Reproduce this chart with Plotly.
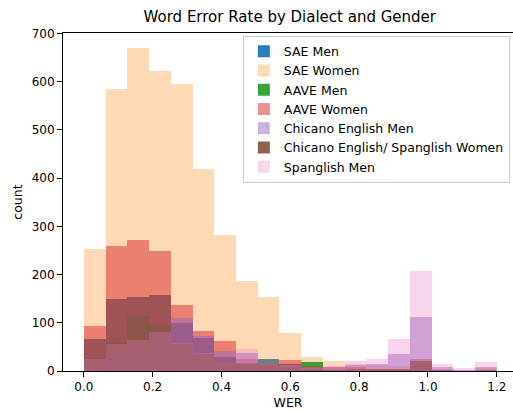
import numpy as np
import plotly.graph_objects as go

# Shared histogram bins (19 bins from 0 to 1.2)
bin_start, bin_end, n_bins = 0.0, 1.2, 19

series_names = [
    "SAE Men",
    "SAE Women",
    "AAVE Men",
    "AAVE Women",
    "Chicano English Men",
    "Chicano English/ Spanglish Women",
    "Spanglish Men",
]

sae_men = [66, 150, 154, 157, 99, 68, 29, 17, 24, 14, 3, 2, 2, 2, 3, 10, 1, 0, 1]
sae_women = [252, 585, 669, 623, 595, 419, 283, 187, 153, 78, 29, 20, 15, 12, 10, 12, 4, 2, 6]
aave_men = [0, 0, 0, 0, 0, 0, 0, 0, 0, 0, 18, 0, 0, 0, 0, 0, 0, 0, 0]
aave_women = [93, 259, 272, 248, 136, 83, 62, 25, 14, 23, 11, 8, 8, 5, 3, 24, 3, 1, 2]
chicano_men = [15, 40, 50, 70, 109, 72, 41, 38, 12, 10, 6, 9, 12, 14, 35, 112, 8, 3, 9]
chicano_spanglish_women = [27, 60, 115, 95, 55, 36, 18, 15, 12, 8, 5, 3, 4, 4, 5, 20, 2, 1, 2]
spanglish_men = [24, 57, 64, 81, 58, 38, 19, 45, 14, 12, 8, 10, 20, 25, 66, 207, 14, 6, 18]

series_values = [sae_men, sae_women, aave_men, aave_women, chicano_men,
                 chicano_spanglish_women, spanglish_men]

colors = ["31,119,180", "255,127,14", "44,160,44", "214,39,40",
          "148,103,189", "140,86,75", "227,119,194"]
alphas = [0.95, 0.3, 0.95, 0.5, 0.5, 0.95, 0.3]

y_ticks = [0, 100, 200, 300, 400, 500, 600, 700]
x_ticks = [0.0, 0.2, 0.4, 0.6, 0.8, 1.0, 1.2]

edges = np.linspace(bin_start, bin_end, n_bins + 1)
centers = (edges[:-1] + edges[1:]) / 2
width = edges[1] - edges[0]

fig = go.Figure()
for name, vals, c, a in zip(series_names, series_values, colors, alphas):
    fig.add_trace(go.Bar(
        x=centers, y=vals, width=width, name=name,
        marker=dict(color=f"rgba({c},{a})", line=dict(width=0)),
    ))

font_family = "DejaVu Sans"
fig.update_layout(
    barmode="overlay",
    width=513, height=411,
    margin=dict(l=63, r=0, t=33, b=40),
    paper_bgcolor="white", plot_bgcolor="white",
    font=dict(family=font_family, size=12, color="black"),
    title=dict(text="Word Error Rate by Dialect and Gender",
               x=0.504, xref="paper", xanchor="center",
               y=1 - 17 / 411, yref="container", yanchor="middle",
               font=dict(size=15, family=font_family, color="black")),
    showlegend=True,
    legend=dict(x=0.993, y=0.992, xanchor="right", yanchor="top",
                bgcolor="rgba(255,255,255,0.8)", bordercolor="#cccccc",
                borderwidth=1, font=dict(size=12.5, family=font_family),
                tracegroupgap=0, traceorder="normal"),
    bargap=0,
)
fig.update_xaxes(
    range=[-0.0605, 1.247], tickvals=x_ticks, tickformat=".1f",
    showgrid=False, zeroline=False, showline=True, linecolor="black",
    linewidth=1, mirror=True, ticks="outside", ticklen=5, tickcolor="black",
    title=dict(text="WER", standoff=4, font=dict(size=12.5)),
)
fig.update_yaxes(
    range=[0, 701], tickvals=y_ticks,
    showgrid=False, zeroline=False, showline=True, linecolor="black",
    linewidth=1, ticks="outside", ticklen=5, tickcolor="black",
    title=dict(text="count", standoff=6, font=dict(size=12.5)),
)

fig.write_html("out.html",
               config={"displayModeBar": False},
               post_script="document.body.style.margin='0';document.body.style.overflow='hidden';")
